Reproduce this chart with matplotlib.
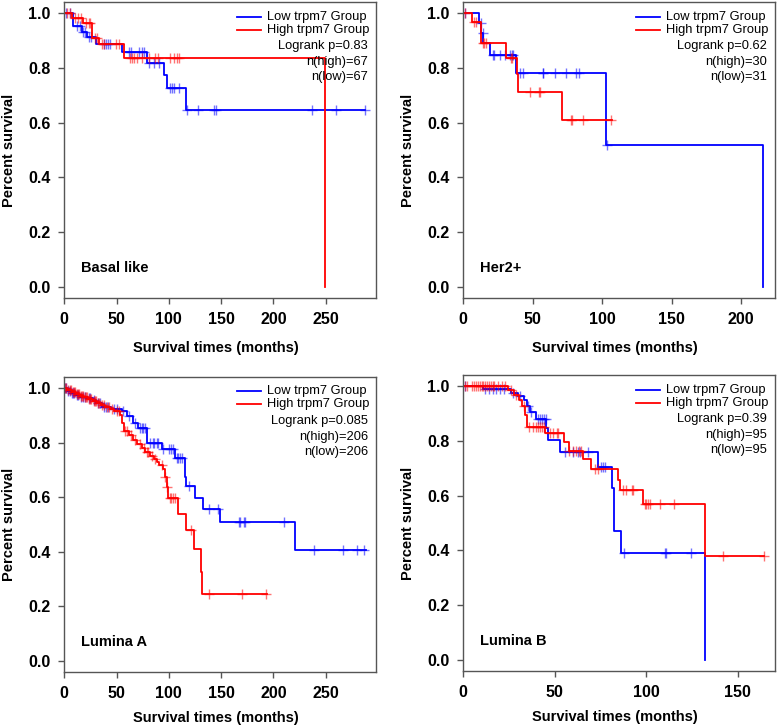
import numpy as np
import matplotlib.pyplot as plt

plt.rcParams['font.family'] = ['Liberation Sans', 'DejaVu Sans']

# ---- Basal like ----
basal_low_t = [8, 17, 22, 30, 55, 79, 95.5, 98.5, 116]
basal_low_s = [0.952, 0.932, 0.912, 0.886, 0.859, 0.818, 0.774, 0.727, 0.646]
basal_low_end = 288
basal_low_c = [2, 5, 12, 15, 17.5, 20, 24, 26, 38, 40, 42, 44, 61.5, 64, 71, 74, 76,
               81.5, 85.5, 90.5, 101, 103, 105, 109.5, 117, 127.5, 143, 145, 237, 260, 288]
basal_high_t = [7, 17.5, 26.5, 33, 57, 249]
basal_high_s = [0.98, 0.965, 0.91, 0.886, 0.837, 0.0]
basal_high_end = 249
basal_high_c = [3, 5.5, 10.5, 13.5, 15.5, 20.5, 23.5, 24.5, 29.5, 31, 36, 38, 49, 52, 63, 65,
                66.5, 69.5, 74.5, 81.5, 87, 90, 101.5, 105, 108, 110]

# ---- Her2+ ----
her2_low_t = [11, 13, 14.5, 19, 38, 102.5, 216]
her2_low_s = [0.963, 0.926, 0.889, 0.848, 0.78, 0.52, 0.0]
her2_low_end = 216
her2_low_c = [1, 12.5, 14, 21.5, 22.2, 26.4, 30, 33.5, 34.8, 36, 40.7, 42.7, 57, 57.5, 66,
              74, 81, 83.5, 103.5]
her2_high_t = [6, 13, 30.5, 38.3, 39.6, 70.7]
her2_high_s = [0.966, 0.889, 0.836, 0.776, 0.71, 0.609]
her2_high_end = 107
her2_high_c = [1, 7.5, 9, 14, 15, 16.5, 34, 35, 48, 54.5, 55, 77.3, 78, 86, 106]

# ---- Lumina A ----
luma_low_t = [3, 6, 10.5, 15, 22, 27, 30, 36, 45, 55, 60, 65.5, 70.5, 79, 93.5, 105.5,
              115, 116.6, 125.2, 133, 149.3, 220.5]
luma_low_s = [0.99, 0.983, 0.975, 0.968, 0.962, 0.955, 0.945, 0.93, 0.922, 0.915, 0.897,
              0.873, 0.855, 0.80, 0.776, 0.745, 0.673, 0.64, 0.596, 0.558, 0.508, 0.406]
luma_low_end = 289
luma_low_c = [1, 2, 4, 5, 7, 8, 9, 12, 13, 16, 18, 20, 24, 25, 28, 32, 34, 38, 40, 42, 48,
              50, 56, 62, 67.5, 72.5, 74, 75.5, 77, 82, 84.5, 86, 88.5, 90, 94.8, 100.6,
              101.9, 104, 107.5, 109.1, 110.7, 112.3, 119.5, 138, 147.5, 166.7, 168.3,
              171.5, 173, 210.4, 238.5, 267, 280, 287]
luma_high_t = [3, 7, 11, 15, 19, 23, 27, 31, 35, 39, 44, 48, 53.5, 55.5, 57, 61.5, 66, 70,
               74.5, 77.5, 82, 85.5, 88.5, 90.5, 94, 96.5, 98, 99.6, 109.2, 116.6, 124.2,
               130.9, 132.2]
luma_high_s = [0.993, 0.986, 0.979, 0.972, 0.966, 0.959, 0.952, 0.945, 0.938, 0.931, 0.924,
               0.917, 0.90, 0.87, 0.843, 0.826, 0.808, 0.795, 0.78, 0.764, 0.752, 0.74,
               0.728, 0.718, 0.703, 0.673, 0.636, 0.598, 0.537, 0.479, 0.412, 0.327, 0.246]
luma_high_end = 193.5
luma_high_c = [1, 2, 4, 5, 6, 8, 9, 10, 12, 13, 14, 16, 17, 18, 20, 21, 22, 24, 25, 26, 28,
               29, 30, 32, 33, 36, 38, 41, 43, 46, 50, 52, 58, 60, 64, 68, 72, 76, 79, 80,
               84, 87, 93.3, 96.5, 98.6, 101, 102.5, 104, 105.6, 121, 138, 170, 193.2]

# ---- Lumina B ----
lumb_low_t = [11, 26, 30, 33, 34.7, 36.5, 40, 45.1, 46.4, 52.8, 73.7, 81, 82.6, 86.4, 131.9]
lumb_low_s = [0.988, 0.975, 0.962, 0.948, 0.926, 0.906, 0.878, 0.845, 0.803, 0.760, 0.704,
              0.627, 0.47, 0.391, 0.0]
lumb_low_end = 131.9
lumb_low_c = [1, 12, 14, 16, 18, 20, 22, 27, 31, 35.5, 37, 41, 42, 43, 44, 45, 55.5, 60,
              62.8, 63.7, 68, 75.5, 76.4, 77.3, 87.8, 110, 110.9, 124.2]
lumb_high_t = [24.6, 27.5, 30.5, 32, 33.5, 35, 44.6, 55, 57.5, 65.6, 69.8, 84.6, 85.9, 98.2,
               131.9]
lumb_high_s = [0.985, 0.966, 0.948, 0.927, 0.894, 0.849, 0.827, 0.797, 0.764, 0.733, 0.696,
               0.658, 0.621, 0.569, 0.379]
lumb_high_end = 164.5
lumb_high_c = [1, 2, 5, 6, 7, 8, 9, 10, 11, 12, 13, 14, 15, 16, 17, 19, 21, 23, 26, 29, 33,
               36, 38, 40, 41, 42, 43, 44, 47.5, 49, 51, 52, 58, 60, 61.5, 63, 64.5, 72,
               73.5, 87, 89, 92, 92.7, 99.1, 100, 100.9, 101.9, 107.3, 115, 141.8, 164.2]

titles = ['Basal like', 'Her2+', 'Lumina A', 'Lumina B']
pvals = ['0.83', '0.62', '0.085', '0.39']
n_high = [67, 30, 206, 95]
n_low = [67, 31, 206, 95]
xmax = [298.5, 224.5, 298.5, 170.5]
xticks = [np.arange(0, 251, 50), np.arange(0, 201, 50), np.arange(0, 251, 50), np.arange(0, 151, 50)]


def step_xy(t, s, end):
    x = [0] + list(t)
    y = [1.0] + list(s)
    if end > t[-1]:
        x.append(end)
        y.append(s[-1])
    return x, y


def censor_y(t, s, c):
    levels = np.array([1.0] + list(s))
    idx = np.searchsorted(np.array(t), np.array(c), side='right')
    return levels[idx]


def km_panel(ax, low, high, title, p, nh, nl, xm, xt, xlab_y):
    for (t, s, end, c), col in [(low, 'blue'), (high, 'red')]:
        x, y = step_xy(t, s, end)
        ax.step(x, y, where='post', color=col, lw=1.3)
        ax.plot(c, censor_y(t, s, c), '+', color=col, ms=7, mew=1.0, alpha=0.55)

    ax.set_xlim(0, xm)
    ax.set_ylim(-0.04, 1.04)
    ax.set_xticks(xt)
    ax.set_yticks([0.0, 0.2, 0.4, 0.6, 0.8, 1.0])
    ax.set_yticklabels(['0.0', '0.2', '0.4', '0.6', '0.8', '1.0'])
    for sp in ax.spines.values():
        sp.set_color('#555555')
        sp.set_linewidth(1.0)
    ax.tick_params(direction='out', length=4.5, width=1, color='#555555',
                   labelsize=11.5, pad=5.5)
    for lab in ax.get_xticklabels() + ax.get_yticklabels():
        lab.set_fontweight('bold')

    ax.text(-0.178, 0.5, 'Percent survival', transform=ax.transAxes, rotation=90,
            ha='center', va='center', fontsize=10.5, fontweight='bold')
    ax.text(0.485, xlab_y, 'Survival times (months)', transform=ax.transAxes,
            ha='center', va='center', fontsize=10.5, fontweight='bold')
    ax.text(0.052, 0.1, title, transform=ax.transAxes, ha='left', va='center',
            fontsize=10.5, fontweight='bold')

    # legend drawn by hand
    ax.plot([0.553, 0.631], [0.951, 0.951], color='blue', lw=1.3, transform=ax.transAxes)
    ax.plot([0.553, 0.631], [0.907, 0.907], color='red', lw=1.3, transform=ax.transAxes)
    ax.text(0.649, 0.951, 'Low trpm7 Group', transform=ax.transAxes, ha='left',
            va='center', fontsize=9.3)
    ax.text(0.649, 0.907, 'High trpm7 Group', transform=ax.transAxes, ha='left',
            va='center', fontsize=9.3)
    ax.text(0.973, 0.850, 'Logrank p=' + p, transform=ax.transAxes, ha='right',
            va='center', fontsize=9.3)
    ax.text(0.973, 0.797, 'n(high)=%d' % nh, transform=ax.transAxes, ha='right',
            va='center', fontsize=9.3)
    ax.text(0.973, 0.745, 'n(low)=%d' % nl, transform=ax.transAxes, ha='right',
            va='center', fontsize=9.3)


def main():
    fig = plt.figure(figsize=(7.77, 7.27), dpi=100)
    W, H = 777.0, 727.0
    boxes = [(64.3, 2, 312, 296), (463.3, 2, 312, 296),
             (64.3, 377, 312, 295), (463.3, 375, 312, 296)]
    xlab_ys = [-0.169, -0.169, -0.155, -0.155]
    data = [
        ((basal_low_t, basal_low_s, basal_low_end, basal_low_c),
         (basal_high_t, basal_high_s, basal_high_end, basal_high_c)),
        ((her2_low_t, her2_low_s, her2_low_end, her2_low_c),
         (her2_high_t, her2_high_s, her2_high_end, her2_high_c)),
        ((luma_low_t, luma_low_s, luma_low_end, luma_low_c),
         (luma_high_t, luma_high_s, luma_high_end, luma_high_c)),
        ((lumb_low_t, lumb_low_s, lumb_low_end, lumb_low_c),
         (lumb_high_t, lumb_high_s, lumb_high_end, lumb_high_c)),
    ]
    for i, (l, top, w, h) in enumerate(boxes):
        ax = fig.add_axes([l / W, 1 - (top + h) / H, w / W, h / H])
        low, high = data[i]
        km_panel(ax, low, high, titles[i], pvals[i], n_high[i], n_low[i], xmax[i],
                 xticks[i], xlab_ys[i])

    fig.savefig('out.png', dpi=100)


if __name__ == "__main__":
    main()
